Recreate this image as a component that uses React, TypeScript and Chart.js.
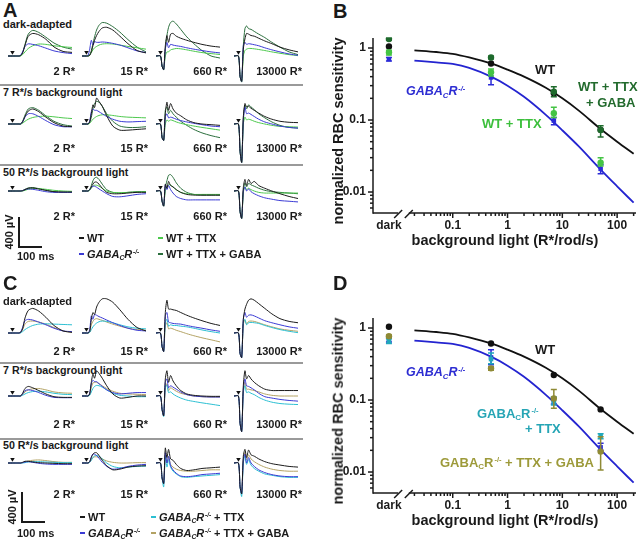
import React, { useEffect, useRef } from 'react';
import { Chart, registerables } from 'chart.js';

Chart.register(...registerables);

const FONT = "'Liberation Sans', Arial, Helvetica, sans-serif";
const INK = '#1a1a1a';

// ================= ERG traces (panels A, C): µV at TIME_MS (ms after flash) =================
const TIME_MS = [-22, 0, 8, 16, 24, 32, 40, 50, 62, 78, 100, 130, 165, 205, 250, 294];
const FLASH_LABELS = ['2 R*', '15 R*', '660 R*', '13000 R*'];
const ROW_LABELS = ['dark-adapted', '7 R*/s background light', '50 R*/s background light'];
const FLASH_MARK_UV = 55;

// Panel A series order: WT, GABAcR-/-, WT + TTX, WT + TTX + GABA
const A_R1_C1 = [
  [0, 0, 0, 0, 0, 0, 5, 44, 155, 290, 330, 310, 245, 133, 67, 53],
  [0, 0, 0, 0, 0, 0, 10, 60, 140, 178, 170, 150, 115, 75, 50, 35],
  [0, 0, 0, 0, 0, 0, 0, 20, 60, 110, 150, 175, 170, 150, 135, 125],
  [0, 0, 0, 0, 0, 0, 5, 50, 170, 320, 375, 345, 275, 190, 130, 100],
];
const A_R1_C2 = [
  [0, 0, 0, 10, 60, 150, 230, 300, 360, 410, 420, 380, 290, 180, 80, 45],
  [0, 0, 10, 100, 230, 160, 210, 200, 200, 205, 200, 185, 160, 120, 75, 50],
  [0, 0, 0, 20, 50, 90, 120, 140, 160, 175, 180, 175, 160, 140, 120, 100],
  [0, 0, 0, 10, 80, 180, 280, 380, 450, 490, 480, 430, 350, 240, 130, 60],
];
const A_R1_C3 = [
  [0, 0, -150, -200, 150, 300, 200, 320, 330, 290, 260, 230, 200, 170, 145, 130],
  [0, 0, -150, -200, 100, 200, 120, 170, 160, 150, 140, 120, 100, 80, 60, 45],
  [0, 0, -150, -200, 0, 60, 60, 90, 100, 110, 105, 90, 70, 50, 35, 22],
  [0, 0, -150, -200, 100, 300, 420, 490, 510, 470, 390, 280, 180, 80, 0, -30],
];
const A_R1_C4 = [
  [0, 0, -300, -370, 100, 250, 330, 320, 300, 290, 260, 220, 180, 130, 90, 60],
  [0, 0, -300, -370, 150, 200, 170, 180, 175, 165, 150, 120, 90, 60, 30, 10],
  [0, 0, -300, -370, 0, 80, 100, 110, 110, 105, 95, 80, 60, 40, 20, 5],
  [0, 0, -300, -380, 150, 400, 440, 400, 390, 360, 320, 270, 200, 130, 60, 20],
];
const A_R2_C1 = [
  [0, 0, 0, 0, 0, 0, 0, 30, 110, 190, 220, 180, 100, 20, -30, -40],
  [0, 0, 0, 0, 0, 0, 0, 30, 100, 150, 150, 110, 50, -10, -40, -40],
  [0, 0, 0, 0, 0, 0, 0, 10, 40, 70, 95, 110, 115, 105, 90, 80],
  [0, 0, 0, 0, 0, 0, 0, 40, 130, 220, 240, 200, 120, 40, -10, -30],
];
const A_R2_C2 = [
  [0, 0, 0, 30, 150, 280, 240, 380, 330, 260, 120, -30, -90, -90, -80, -70],
  [0, 0, 0, 40, 180, 220, 200, 200, 180, 150, 110, 70, 40, 30, 35, 40],
  [0, 0, 0, 10, 40, 70, 90, 110, 125, 135, 135, 125, 110, 100, 95, 90],
  [0, 0, 0, 20, 100, 220, 300, 330, 320, 260, 150, 40, -30, -50, -50, -40],
];
const A_R2_C3 = [
  [0, 0, -200, -240, 150, 320, 200, 300, 220, 160, 120, 60, 20, 0, -10, -20],
  [0, 0, -200, -240, 100, 150, 90, 100, 90, 70, 50, 30, 10, -10, -30, -40],
  [0, 0, -200, -240, 0, 60, 40, 60, 50, 30, 10, -10, -30, -50, -70, -90],
  [0, 0, -200, -240, 200, 250, 150, 200, 150, 100, 40, -20, -80, -130, -170, -200],
];
const A_R2_C4 = [
  [0, 0, -400, -560, 100, 300, 250, 260, 230, 200, 160, 110, 70, 40, 25, 20],
  [0, 0, -400, -560, 50, 250, 150, 160, 140, 110, 70, 30, 0, -30, -50, -60],
  [0, 0, -400, -560, 0, 100, 60, 70, 60, 40, 20, 0, -20, -35, -40, -45],
  [0, 0, -400, -560, 80, 280, 220, 280, 250, 210, 150, 90, 30, -20, -50, -60],
];
const A_R3_C1 = [
  [0, 0, 0, 0, 0, 0, 0, 5, 20, 40, 45, 30, 10, -10, -15, -15],
  [0, 0, 0, 0, 0, 0, 0, 5, 20, 30, 25, 10, -10, -20, -20, -20],
  [0, 0, 0, 0, 0, 0, 0, 0, 10, 25, 35, 35, 25, 10, 0, -5],
  [0, 0, 0, 0, 0, 0, 0, 5, 25, 45, 50, 35, 10, -10, -15, -15],
];
const A_R3_C2 = [
  [0, 0, 0, 20, 60, 100, 130, 130, 100, 40, -20, -40, -40, -30, -20, -20],
  [0, 0, 0, 20, 50, 70, 70, 55, 30, 0, -40, -80, -85, -70, -50, -40],
  [0, 0, 0, 10, 40, 70, 85, 85, 70, 40, 0, -20, -25, -20, -15, -10],
  [0, 0, 0, 20, 80, 150, 190, 200, 170, 100, 20, -20, -30, -20, -10, -10],
];
const A_R3_C3 = [
  [0, 0, -150, -220, 100, 40, 140, 80, 60, 20, -20, -50, -60, -60, -60, -60],
  [0, 0, -150, -220, 90, 20, 80, 20, -30, -80, -110, -130, -130, -130, -130, -130],
  [0, 0, -150, -220, 20, 60, 90, 90, 60, 20, -20, -40, -50, -50, -50, -50],
  [0, 0, -150, -220, 50, 150, 230, 240, 200, 120, 40, -20, -50, -60, -60, -60],
];
const A_R3_C4 = [
  [0, 0, -300, -400, 50, 170, 80, 170, 110, 140, 80, 40, 0, -40, -80, -110],
  [0, 0, -300, -400, 0, 60, 0, 30, -10, -40, -70, -100, -120, -140, -150, -160],
  [0, 0, -300, -400, -20, 60, 20, 40, 20, 0, -20, -30, -30, -30, -30, -30],
  [0, 0, -300, -400, 0, 120, 60, 110, 90, 70, 40, 10, -10, -20, -30, -40],
];

// Panel C series order: WT, GABAcR-/-, GABAcR-/- + TTX, GABAcR-/- + TTX + GABA
const C_R1_C1 = [
  [0, 0, 0, 0, 0, 0, 10, 60, 220, 330, 360, 320, 230, 110, 30, 10],
  [0, 0, 0, 0, 0, 0, 10, 80, 180, 200, 190, 160, 120, 70, 30, 20],
  [0, 0, 0, 0, 0, 0, 0, 20, 50, 80, 110, 130, 135, 130, 125, 120],
  [0, 0, 0, 0, 0, 0, 5, 50, 130, 170, 175, 160, 130, 80, 30, 10],
];
const C_R1_C2 = [
  [0, 0, 0, 20, 200, 300, 270, 380, 450, 500, 500, 450, 340, 200, 80, 30],
  [0, 0, 0, 50, 250, 200, 270, 260, 240, 220, 190, 150, 110, 70, 40, 30],
  [0, 0, 0, 10, 50, 90, 120, 145, 165, 175, 170, 150, 120, 90, 70, 60],
  [0, 0, 0, 20, 120, 170, 200, 210, 200, 185, 160, 130, 100, 70, 50, 40],
];
const C_R1_C3 = [
  [0, 0, -200, -270, 300, 480, 350, 350, 340, 330, 300, 260, 220, 180, 140, 110],
  [0, 0, -200, -270, 250, 300, 160, 150, 140, 135, 130, 110, 90, 70, 45, 25],
  [0, 0, -200, -270, 150, 200, 100, 120, 110, 110, 100, 90, 70, 45, 20, 0],
  [0, 0, -200, -270, 100, 150, 60, 70, 60, 40, 20, -10, -40, -70, -100, -130],
];
const C_R1_C4 = [
  [0, 0, -300, -360, 200, 350, 420, 480, 500, 480, 430, 360, 280, 210, 170, 150],
  [0, 0, -300, -360, 200, 300, 230, 260, 265, 250, 220, 180, 150, 120, 90, 70],
  [0, 0, -300, -360, 150, 200, 120, 150, 155, 150, 140, 110, 80, 50, 25, 5],
  [0, 0, -300, -360, 130, 190, 130, 170, 175, 170, 150, 120, 90, 60, 40, 25],
];
const C_R2_C1 = [
  [0, 0, 0, 0, 0, 0, 0, 40, 110, 140, 120, 80, 30, -10, -20, -20],
  [0, 0, 0, 0, 0, 0, 0, 30, 80, 90, 80, 50, 10, -20, -25, -25],
  [0, 0, 0, 0, 0, 0, 0, 10, 30, 50, 65, 70, 60, 40, 25, 20],
  [0, 0, 0, 0, 0, 0, 0, 20, 60, 90, 105, 110, 90, 60, 45, 40],
];
const C_R2_C2 = [
  [0, 0, 0, 30, 200, 320, 260, 370, 330, 260, 150, 30, -30, -20, 0, 0],
  [0, 0, 0, 40, 180, 230, 210, 210, 180, 140, 90, 50, 30, 40, 50, 50],
  [0, 0, 0, 10, 60, 110, 140, 155, 150, 130, 90, 40, 10, 0, -10, -10],
  [0, 0, 0, 20, 120, 190, 200, 200, 180, 150, 110, 70, 40, 30, 25, 20],
];
const C_R2_C3 = [
  [0, 0, -200, -290, 250, 370, 200, 300, 220, 150, 80, 30, 10, 0, -5, -5],
  [0, 0, -200, -290, 200, 250, 120, 150, 130, 100, 60, 20, 0, -10, -15, -15],
  [0, 0, -200, -300, 150, 150, 50, 60, 30, 0, -30, -60, -80, -100, -120, -140],
  [0, 0, -200, -290, 120, 180, 80, 120, 100, 70, 40, 20, 0, -10, -15, -15],
];
const C_R2_C4 = [
  [0, 0, -400, -520, 150, 370, 250, 300, 250, 200, 150, 100, 80, 80, 80, 80],
  [0, 0, -400, -520, 100, 250, 150, 140, 120, 90, 40, -10, -30, -50, -65, -75],
  [0, 0, -400, -520, 50, 150, 50, 60, 40, 20, -20, -60, -90, -110, -120, -125],
  [0, 0, -400, -520, 80, 200, 100, 100, 90, 80, 60, 30, 10, 0, 0, 0],
];
const C_R3_C1 = [
  [0, 0, 0, 0, 0, 0, 0, 10, 25, 25, 15, 5, 0, -5, -10, -10],
  [0, 0, 0, 0, 0, 0, 0, 5, 15, 20, 10, -5, -15, -20, -20, -20],
  [0, 0, 0, 0, 0, 0, 0, 0, 5, 15, 20, 20, 15, 10, 5, 5],
  [0, 0, 0, 0, 0, 0, 0, 5, 15, 30, 40, 45, 35, 20, 10, 10],
];
const C_R3_C2 = [
  [0, 0, 0, 20, 80, 130, 150, 150, 110, 40, -40, -100, -90, -60, -45, -40],
  [0, 0, 0, 20, 90, 130, 130, 110, 70, 10, -50, -90, -80, -50, -30, -20],
  [0, 0, 0, 10, 40, 80, 105, 110, 100, 60, 0, -50, -70, -60, -50, -45],
  [0, 0, 0, 10, 50, 80, 90, 90, 80, 60, 30, 10, 0, 0, 5, 5],
];
const C_R3_C3 = [
  [0, 0, -220, -300, 220, 80, 200, 60, 40, -20, -80, -110, -100, -80, -70, -60],
  [0, 0, -220, -300, 150, 0, 100, -40, -100, -150, -190, -200, -190, -170, -160, -150],
  [0, 0, -220, -350, 100, -60, 50, -60, -120, -160, -200, -210, -200, -190, -180, -170],
  [0, 0, -220, -300, 120, 0, 90, -20, -60, -90, -110, -120, -120, -110, -100, -100],
];
const C_R3_C4 = [
  [0, 0, -350, -450, 100, 200, 80, 190, 120, 100, 60, 20, -10, -30, -50, -60],
  [0, 0, -350, -450, 50, 130, 0, 80, 0, -50, -100, -140, -170, -190, -200, -200],
  [0, 0, -350, -490, 0, 100, -20, 50, -30, -80, -120, -160, -180, -200, -210, -210],
  [0, 0, -350, -450, 50, 150, 50, 120, 60, 20, -20, -60, -90, -110, -120, -120],
];

const A_ROWS = [
  [A_R1_C1, A_R1_C2, A_R1_C3, A_R1_C4],
  [A_R2_C1, A_R2_C2, A_R2_C3, A_R2_C4],
  [A_R3_C1, A_R3_C2, A_R3_C3, A_R3_C4],
];
const C_ROWS = [
  [C_R1_C1, C_R1_C2, C_R1_C3, C_R1_C4],
  [C_R2_C1, C_R2_C2, C_R2_C3, C_R2_C4],
  [C_R3_C1, C_R3_C2, C_R3_C3, C_R3_C4],
];

const A_COLORS = ['#1a1a1a', '#3a3ad4', '#4cc84c', '#2a6e3c'];
const C_COLORS = ['#1a1a1a', '#3a3ad4', '#2bbfd2', '#b3a263'];

// ================= Sensitivity (panels B, D) =================
const DARK_X = 0.00686; // where the "dark" category sits on the broken axis
const BG_X = [DARK_X, 0.5, 7, 50];
const X_TICKS = [DARK_X, 0.1, 1, 10, 100];
const X_TICK_LABELS = ['dark', '0.1', '1', '10', '100'];
const Y_TICKS = [0.01, 0.1, 1];
const Y_TICK_LABELS = ['0.01', '0.1', '1'];

const FIT_X = [0.02, 0.05, 0.1, 0.2, 0.5, 1, 2, 5, 10, 20, 50, 100, 200];
const WT_FIT = [0.93, 0.88, 0.83, 0.74, 0.61, 0.5, 0.4, 0.28, 0.2, 0.135, 0.075, 0.05, 0.034];
const KO_FIT = [0.67, 0.63, 0.6, 0.53, 0.4, 0.3, 0.21, 0.118, 0.072, 0.043, 0.0205, 0.012, 0.0071];

const B_WT = [1.05, 0.61, 0.235, 0.073];
const B_KO = [0.7, 0.39, 0.098, 0.021];
const B_KO_LO = [0.66, 0.31, 0.086, 0.018];
const B_KO_HI = [0.74, 0.45, 0.108, 0.024];
const B_TTX = [0.87, 0.46, 0.124, 0.0256];
const B_TTX_LO = [0.8, 0.41, 0.108, 0.023];
const B_TTX_HI = [0.93, 0.51, 0.15, 0.03];
const B_GABA = [1.33, 0.74, 0.247, 0.0726];
const B_GABA_LO = [1.28, 0.71, 0.21, 0.058];
const B_GABA_HI = [1.38, 0.77, 0.29, 0.083];

const D_WT = [1.04, 0.61, 0.222, 0.074];
const D_KO = [0.68, 0.39, 0.098, 0.022];
const D_KO_LO = [0.64, 0.31, 0.088, 0.02];
const D_KO_HI = [0.72, 0.5, 0.108, 0.025];
const D_KOTTX = [0.66, 0.37, 0.095, 0.0316];
const D_KOTTX_LO = [0.61, 0.32, 0.085, 0.029];
const D_KOTTX_HI = [0.71, 0.45, 0.11, 0.034];
const D_KOGABA = [0.77, 0.275, 0.105, 0.0192];
const D_KOGABA_LO = [0.74, 0.26, 0.077, 0.0107];
const D_KOGABA_HI = [0.8, 0.29, 0.14, 0.031];

// ================= layout =================
const COL_LEFT = [4, 78, 152, 230];
const COL_RIGHT = [75, 148, 227, 302];
const TRACE_W = 72;
const TRACE_H = 90;
const TRACE_UV = 600;
const A_BASE = [56, 124, 191];
const C_BASE = [333, 396, 463];

const TICK_FONT = { family: FONT, size: 12, weight: 'bold' as const };

function TraceChart({ left, top, series, colors }: any) {
  const ref = useRef<HTMLCanvasElement>(null);
  useEffect(() => {
    const datasets: any[] = [
      {
        data: [{ x: 0, y: FLASH_MARK_UV }],
        showLine: false,
        pointStyle: 'triangle',
        rotation: 180,
        pointRadius: 2.6,
        pointBackgroundColor: '#111',
        pointBorderWidth: 0,
      },
    ];
    series.forEach((vals: number[], i: number) => {
      datasets.push({
        data: TIME_MS.map((t, k) => ({ x: t, y: vals[k] })),
        borderColor: colors[i],
        borderWidth: 1,
        pointRadius: 0,
        tension: 0.25,
        fill: false,
      });
    });
    const chart = new Chart(ref.current as HTMLCanvasElement, {
      type: 'line',
      data: { datasets },
      options: {
        animation: false,
        responsive: false,
        maintainAspectRatio: false,
        events: [],
        layout: { padding: 0 },
        plugins: { legend: { display: false }, tooltip: { enabled: false } },
        scales: {
          x: { type: 'linear', display: false, min: TIME_MS[0], max: TIME_MS[TIME_MS.length - 1] },
          y: { type: 'linear', display: false, min: -TRACE_UV, max: TRACE_UV },
        },
      } as any,
    });
    return () => chart.destroy();
  }, []);
  return (
    <canvas
      ref={ref}
      width={TRACE_W}
      height={TRACE_H}
      style={{ position: 'absolute', left, top, width: TRACE_W, height: TRACE_H }}
    />
  );
}

function Txt({ x, y, size = 11, color = INK, italic = false, align = 'left', weight = 700, children }: any) {
  const tx = align === 'left' ? '0' : align === 'right' ? '-100%' : '-50%';
  return (
    <div
      style={{
        position: 'absolute',
        left: x,
        top: y - size * 0.8465,
        fontSize: size,
        lineHeight: `${size}px`,
        fontWeight: weight,
        fontStyle: italic ? 'italic' : 'normal',
        color,
        whiteSpace: 'nowrap',
        transform: `translateX(${tx})`,
      }}
    >
      {children}
    </div>
  );
}

function VTxt({ cx, cy, size, children }: any) {
  return (
    <div
      style={{
        position: 'absolute',
        left: cx,
        top: cy,
        fontSize: size,
        lineHeight: `${size}px`,
        fontWeight: 700,
        whiteSpace: 'nowrap',
        color: INK,
        transform: 'translate(-50%, -50%) rotate(-90deg)',
      }}
    >
      {children}
    </div>
  );
}

function Rule({ x, y, w, h, color = INK }: any) {
  return <div style={{ position: 'absolute', left: x, top: y, width: w, height: h, background: color }} />;
}

const SUB: any = { fontSize: '0.62em', position: 'relative', top: '0.3em', verticalAlign: 'baseline', lineHeight: 0 };
const SUP: any = { fontSize: '0.58em', position: 'relative', top: '-0.6em', verticalAlign: 'baseline', lineHeight: 0, marginLeft: '0.12em' };

function Gaba({ italic = true }: any) {
  return (
    <span style={{ fontStyle: italic ? 'italic' : 'normal' }}>
      GABA<sub style={SUB}>C</sub>R<sup style={SUP}>-/-</sup>
    </span>
  );
}

function TracePanel({ rows, base, colors, letter, letterY, rowTextY, labelY, sepY }: any) {
  return (
    <>
      <Txt x={3} y={letterY} size={20}>{letter}</Txt>
      {ROW_LABELS.map((t, r) => (
        <Txt key={'rl' + r} x={3} y={rowTextY[r]} size={r === 0 ? 11 : 10.7}>{t}</Txt>
      ))}
      {sepY.map((y: number, i: number) => (
        <Rule key={'sep' + i} x={0} y={y - 1} w={303} h={1.8} color="#9a9a9a" />
      ))}
      {rows.map((row: any, r: number) =>
        row.map((series: any, c: number) => (
          <TraceChart key={`${r}-${c}`} left={COL_LEFT[c]} top={base[r] - TRACE_H / 2} series={series} colors={colors} />
        ))
      )}
      {labelY.map((y: number, r: number) =>
        FLASH_LABELS.map((t, c) => (
          <Txt key={`fl${r}-${c}`} x={COL_RIGHT[c]} y={y} align="right">{t}</Txt>
        ))
      )}
    </>
  );
}

const errorBarPlugin = {
  id: 'errorBars',
  afterDatasetDraw(chart: any, args: any) {
    const ds = chart.data.datasets[args.index];
    if (!ds.errLo) return;
    const { ctx } = chart;
    const x = chart.scales.x;
    const y = chart.scales.y;
    ctx.save();
    ctx.strokeStyle = ds.pointBackgroundColor;
    ctx.lineWidth = 1.5;
    ds.data.forEach((p: any, i: number) => {
      const px = x.getPixelForValue(p.x);
      const y1 = y.getPixelForValue(ds.errLo[i]);
      const y2 = y.getPixelForValue(ds.errHi[i]);
      ctx.beginPath();
      ctx.moveTo(px, y1);
      ctx.lineTo(px, y2);
      ctx.moveTo(px - 3, y1);
      ctx.lineTo(px + 3, y1);
      ctx.moveTo(px - 3, y2);
      ctx.lineTo(px + 3, y2);
      ctx.stroke();
    });
    ctx.restore();
  },
};

const X_BREAK = [0.0101, 0.0158];
const X_MINOR_FROM = 0.02;

const axisPlugin = {
  id: 'brokenLogAxes',
  afterDraw(chart: any) {
    const { ctx, chartArea: ca } = chart;
    const x = chart.scales.x;
    const y = chart.scales.y;
    ctx.save();
    ctx.strokeStyle = INK;
    ctx.lineWidth = 1.5;
    const seg = (x1: number, y1: number, x2: number, y2: number) => {
      ctx.beginPath();
      ctx.moveTo(x1, y1);
      ctx.lineTo(x2, y2);
      ctx.stroke();
    };
    seg(ca.left, ca.top, ca.left, ca.bottom + 0.75);
    for (let k = -3; k <= 0; k++) {
      for (let m = 1; m <= 9; m++) {
        const v = m * Math.pow(10, k);
        if (v < y.min || v > y.max) continue;
        const py = y.getPixelForValue(v);
        seg(ca.left - (m === 1 ? 5 : 3), py, ca.left, py);
      }
    }
    const b1 = x.getPixelForValue(X_BREAK[0]);
    const b2 = x.getPixelForValue(X_BREAK[1]);
    const yb = ca.bottom;
    seg(ca.left, yb, b1, yb);
    seg(b2, yb, ca.right, yb);
    seg(b1 - 4, yb + 5, b1 + 4, yb - 3);
    seg(b2 - 4, yb + 5, b2 + 4, yb - 3);
    for (let k = -2; k <= 2; k++) {
      for (let m = 1; m <= 9; m++) {
        const v = m * Math.pow(10, k);
        if (v < X_MINOR_FROM || v > x.max) continue;
        const px = x.getPixelForValue(v);
        seg(px, yb, px, yb + (m === 1 ? 5 : 3));
      }
    }
    ctx.restore();
  },
};

function SensChart({ top, sets }: any) {
  const ref = useRef<HTMLCanvasElement>(null);
  useEffect(() => {
    const datasets: any[] = [];
    sets.forEach((s: any) => {
      datasets.push({
        data: BG_X.map((x, i) => ({ x, y: s.vals[i] })),
        showLine: false,
        pointRadius: 3.2,
        pointStyle: s.style || 'circle',
        pointBackgroundColor: s.color,
        pointBorderColor: s.color,
        pointBorderWidth: 0,
        errLo: s.lo,
        errHi: s.hi,
      });
    });
    datasets.push({
      data: FIT_X.map((x, i) => ({ x, y: KO_FIT[i] })),
      borderColor: '#2424d0',
      borderWidth: 1.8,
      pointRadius: 0,
      cubicInterpolationMode: 'monotone',
    });
    datasets.push({
      data: FIT_X.map((x, i) => ({ x, y: WT_FIT[i] })),
      borderColor: '#111',
      borderWidth: 1.8,
      pointRadius: 0,
      cubicInterpolationMode: 'monotone',
    });
    const chart = new Chart(ref.current as HTMLCanvasElement, {
      type: 'line',
      data: { datasets },
      options: {
        animation: false,
        responsive: false,
        maintainAspectRatio: false,
        events: [],
        layout: { padding: { left: 0, right: 3, top: 38, bottom: 0 } },
        plugins: { legend: { display: false }, tooltip: { enabled: false } },
        scales: {
          x: {
            type: 'logarithmic',
            min: 0.00351,
            max: 221,
            grid: { display: false, drawTicks: false },
            border: { display: false },
            afterBuildTicks: (s: any) => {
              s.ticks = X_TICKS.map((v) => ({ value: v }));
            },
            afterFit: (s: any) => {
              s.height = 37;
            },
            ticks: {
              autoSkip: false,
              maxRotation: 0,
              padding: 5,
              color: INK,
              font: TICK_FONT,
              callback: (_v: any, i: number) => X_TICK_LABELS[i],
            },
          },
          y: {
            type: 'logarithmic',
            min: 0.00511,
            max: 1.377,
            grid: { display: false, drawTicks: false },
            border: { display: false },
            afterBuildTicks: (s: any) => {
              s.ticks = Y_TICKS.map((v) => ({ value: v }));
            },
            afterFit: (s: any) => {
              s.width = 43;
            },
            ticks: {
              autoSkip: false,
              padding: 7,
              color: INK,
              font: TICK_FONT,
              callback: (_v: any, i: number) => Y_TICK_LABELS[i],
            },
          },
        },
      } as any,
      plugins: [errorBarPlugin, axisPlugin],
    });
    return () => chart.destroy();
  }, []);
  return (
    <canvas ref={ref} width={310} height={250} style={{ position: 'absolute', left: 330, top, width: 310, height: 250 }} />
  );
}

function LegendItem({ x, y, color, children }: any) {
  return (
    <>
      <Rule x={x} y={y - 4.6} w={5} h={1.6} color={color} />
      <Txt x={x + 8} y={y} size={11}>{children}</Txt>
    </>
  );
}

function ScaleBar({ x, yTop, cyText, msY }: any) {
  return (
    <>
      <Rule x={x - 0.75} y={yTop} w={1.5} h={30} />
      <Rule x={x - 0.75} y={yTop + 29} w={24} h={1.5} />
      <VTxt cx={x - 10} cy={cyText} size={11}>400 µV</VTxt>
      <Txt x={17} y={msY} size={11}>100 ms</Txt>
    </>
  );
}

export default function App() {
  return (
    <div
      style={{
        position: 'fixed',
        left: 0,
        top: 0,
        width: 640,
        height: 542,
        background: '#fff',
        overflow: 'hidden',
        fontFamily: FONT,
        color: INK,
      }}
    >
      {/* Panel A */}
      <TracePanel
        rows={A_ROWS}
        base={A_BASE}
        colors={A_COLORS}
        letter="A"
        letterY={17}
        rowTextY={[28, 96.5, 176]}
        labelY={[75, 152, 220]}
        sepY={[85, 165]}
      />
      <ScaleBar x={19} yTop={217} cyText={232} msY={260} />
      <LegendItem x={79} y={242} color={A_COLORS[0]}>WT</LegendItem>
      <LegendItem x={79} y={258} color={A_COLORS[1]}><Gaba /></LegendItem>
      <LegendItem x={158} y={242} color={A_COLORS[2]}>WT + TTX</LegendItem>
      <LegendItem x={158} y={258} color={A_COLORS[3]}>WT + TTX + GABA</LegendItem>

      {/* Panel C */}
      <TracePanel
        rows={C_ROWS}
        base={C_BASE}
        colors={C_COLORS}
        letter="C"
        letterY={290}
        rowTextY={[305, 374, 449]}
        labelY={[355, 428, 498]}
        sepY={[363, 439]}
      />
      <ScaleBar x={22} yTop={492} cyText={507} msY={537} />
      <LegendItem x={80} y={521} color={C_COLORS[0]}>WT</LegendItem>
      <LegendItem x={80} y={537} color={C_COLORS[1]}><Gaba /></LegendItem>
      <LegendItem x={151} y={521} color={C_COLORS[2]}><Gaba /> + TTX</LegendItem>
      <LegendItem x={151} y={537} color={C_COLORS[3]}><Gaba /> + TTX + GABA</LegendItem>

      {/* Panel B */}
      <Txt x={333} y={18} size={20}>B</Txt>
      <SensChart
        top={0}
        sets={[
          { vals: B_GABA, lo: B_GABA_LO, hi: B_GABA_HI, color: '#1e6a2c' },
          { vals: B_TTX, lo: B_TTX_LO, hi: B_TTX_HI, color: '#44c444' },
          { vals: B_WT, color: '#111' },
          { vals: B_KO, lo: B_KO_LO, hi: B_KO_HI, color: '#2b2bd8', style: 'rect' },
        ]}
      />
      <VTxt cx={338} cy={131} size={14.5}>normalized RBC sensitivity</VTxt>
      <Txt x={505} y={245} size={14.5} align="center">background light (R*/rod/s)</Txt>
      <Txt x={535} y={74} size={13}>WT</Txt>
      <Txt x={406} y={96} size={12.5} color="#2d2dd2" italic><Gaba /></Txt>
      <Txt x={482} y={128} size={13} color="#3dbf3d">WT + TTX</Txt>
      <Txt x={578} y={91} size={13} color="#236b2e">WT + TTX</Txt>
      <Txt x={586} y={107} size={13} color="#236b2e">+ GABA</Txt>

      {/* Panel D */}
      <Txt x={333} y={290} size={20}>D</Txt>
      <SensChart
        top={280}
        sets={[
          { vals: D_KOGABA, lo: D_KOGABA_LO, hi: D_KOGABA_HI, color: '#8f8a35' },
          { vals: D_KOTTX, lo: D_KOTTX_LO, hi: D_KOTTX_HI, color: '#22a8bc', style: 'rect' },
          { vals: D_KO, lo: D_KO_LO, hi: D_KO_HI, color: '#2b2bd8', style: 'rect' },
          { vals: D_WT, color: '#111' },
        ]}
      />
      <VTxt cx={338} cy={411} size={14.5}>normalized RBC sensitivity</VTxt>
      <Txt x={505} y={525} size={14.5} align="center">background light (R*/rod/s)</Txt>
      <Txt x={535} y={354} size={13}>WT</Txt>
      <Txt x={406} y={377} size={12.5} color="#2d2dd2" italic><Gaba /></Txt>
      <Txt x={477} y={418} size={13} color="#26a5b5"><Gaba italic={false} /></Txt>
      <Txt x={525} y={433} size={13} color="#26a5b5">+ TTX</Txt>
      <Txt x={440} y={467} size={13} color="#9d9a3a"><Gaba italic={false} /> + TTX + GABA</Txt>
    </div>
  );
}
